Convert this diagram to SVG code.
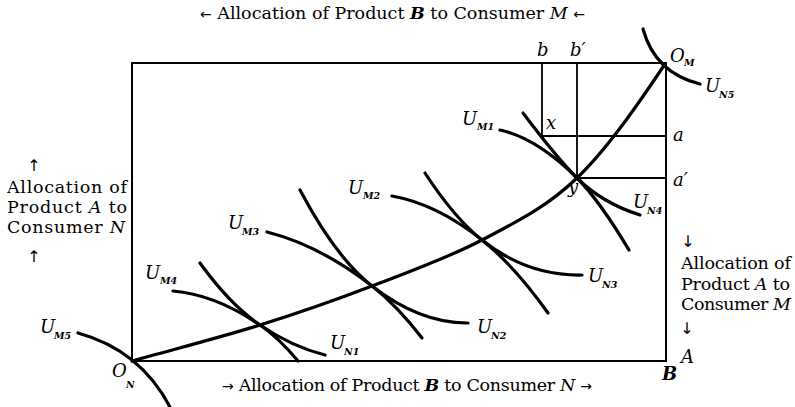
<svg xmlns="http://www.w3.org/2000/svg" width="795" height="407" viewBox="0 0 795 407">
<style>
text{font-family:"DejaVu Serif","Liberation Serif",serif;fill:#000}
.lab{font-size:17.5px}
.it{font-style:italic}
.ar{font-family:"DejaVu Sans","Liberation Sans",sans-serif;font-size:14px;fill:#000}
.sar{font-family:"DejaVu Sans","Liberation Sans",sans-serif;font-size:16px;fill:#000}
.v{font-size:18px;font-style:italic}
.sub{font-size:9.5px;font-style:italic;font-weight:bold}
.box{fill:none;stroke:#000;stroke-width:2}
.thin{fill:none;stroke:#000;stroke-width:1.8}
.cur{fill:none;stroke:#000;stroke-width:3.2;stroke-linecap:round}
</style>
<rect width="795" height="407" fill="#fff"/>
<g id="box">
<path class="box" d="M132,63 H666 V361 H132 Z"/>
</g>
<g id="guides">
<path class="thin" d="M542,63 V136 H666"/>
<path class="thin" d="M577,63 V178 H666"/>
</g>
<g id="connectors">
<path id="contract-curve" class="cur" d="M132,361 C174.7,349 220,337.5 260,325 C300,312.5 335,300.2 372,286 C409,271.8 447.8,258 482,240 C516.2,222 546.5,207.3 577,178 C607.5,148.7 638.3,104 665,64"/>
</g>
<g id="UM5"><path class="cur" d="M78,333 Q140,350 170,407"/></g>
<g id="UN5"><path class="cur" d="M643,29 Q655,73 700,84"/></g>
<g id="UM4"><path class="cur" d="M173,291 Q215,294.4 260,325 Q279,338 298,361"/></g>
<g id="UN1"><path class="cur" d="M200,263 Q230,304.6 260,325 Q292,346.8 325,355"/></g>
<g id="UM3"><path class="cur" d="M267,232 Q320,245.4 372,286 Q397,305.5 422,338"/></g>
<g id="UN2"><path class="cur" d="M300,190 Q336,257.9 372,286 Q420,323.4 468,323"/></g>
<g id="UM2"><path class="cur" d="M392,196 Q437,204 482,240 Q515,266.4 548,313"/></g>
<g id="UN3"><path class="cur" d="M425,173 Q454,217.6 482,240 Q527,276 582,275"/></g>
<g id="UM1"><path class="cur" d="M500,130 Q537,138 577,178 Q599,200 629,250"/></g>
<g id="UN4"><path class="cur" d="M523,113 Q557,158 577,178 Q602,203 640,215"/></g>
<g id="labels">
<text x="462" y="125" class="v">U</text><text x="477" y="130" class="sub">M1</text>
<text x="348" y="194" class="v">U</text><text x="363" y="199" class="sub">M2</text>
<text x="228" y="229" class="v">U</text><text x="242" y="235" class="sub">M3</text>
<text x="145" y="279" class="v">U</text><text x="160" y="284" class="sub">M4</text>
<text x="40" y="333" class="v">U</text><text x="54" y="339" class="sub">M5</text>
<text x="330" y="349" class="v">U</text><text x="344" y="355" class="sub">N1</text>
<text x="477" y="333" class="v">U</text><text x="491" y="339" class="sub">N2</text>
<text x="588" y="282" class="v">U</text><text x="602" y="288" class="sub">N3</text>
<text x="633" y="208" class="v">U</text><text x="647" y="214" class="sub">N4</text>
<text x="705" y="92" class="v">U</text><text x="719" y="98" class="sub">N5</text>
<text x="670" y="62" class="v">O</text><text x="684" y="66" class="sub">M</text>
<text x="112" y="377" class="v">O</text><text x="126" y="388" class="sub">N</text>
<text x="537" y="56" class="v">b</text>
<text x="570" y="56" class="v">b′</text>
<text x="546" y="129" class="v">x</text>
<text x="673" y="141" class="v">a</text>
<text x="673" y="186" class="v">a′</text>
<text x="568" y="193" class="v">y</text>
<text x="681" y="363" class="v">A</text>
<text x="662" y="380" class="v" font-weight="bold">B</text>
</g>
<g id="axis-titles">
<text x="200" y="19" class="lab" textLength="385"><tspan class="ar">←</tspan> Allocation of Product <tspan class="it" font-weight="bold">B</tspan> to Consumer <tspan class="it">M</tspan> <tspan class="ar">←</tspan></text>
<text x="222" y="391" class="lab" textLength="370"><tspan class="ar">→</tspan> Allocation of Product <tspan class="it" font-weight="bold">B</tspan> to Consumer <tspan class="it">N</tspan> <tspan class="ar">→</tspan></text>
<text x="34" y="171" class="sar" text-anchor="middle">↑</text>
<text x="7" y="193" class="lab" textLength="120">Allocation of</text>
<text x="7" y="213" class="lab" textLength="120">Product <tspan class="it">A</tspan> to</text>
<text x="7" y="233" class="lab" textLength="118">Consumer <tspan class="it">N</tspan></text>
<text x="34" y="262" class="sar" text-anchor="middle">↑</text>
<text x="688" y="247" class="sar" text-anchor="middle">↓</text>
<text x="681" y="269" class="lab" textLength="110">Allocation of</text>
<text x="681" y="290" class="lab" textLength="109">Product <tspan class="it">A</tspan> to</text>
<text x="681" y="310" class="lab" textLength="110">Consumer <tspan class="it">M</tspan></text>
<text x="687" y="334" class="sar" text-anchor="middle">↓</text>
</g>
</svg>
